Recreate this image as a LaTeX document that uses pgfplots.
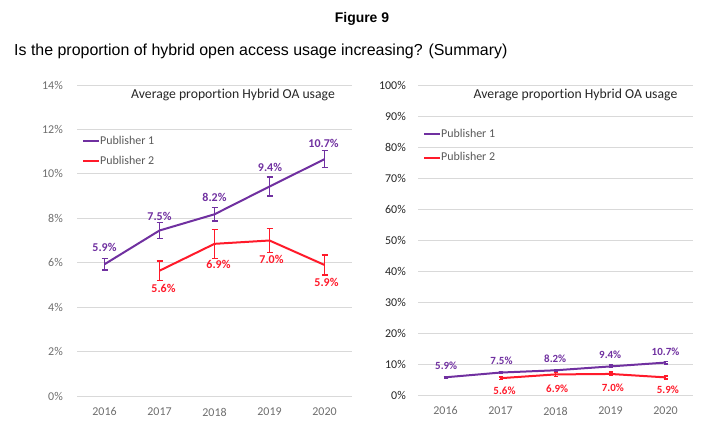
\documentclass[border=0pt]{standalone}
\usepackage{pgfplots}
\usepackage{pgfplotstable}
\pgfplotsset{compat=1.18}
\usepackage{fontspec}
\setmainfont{Carlito}[Ligatures={NoCommon}]
\newfontfamily\arial{Liberation Sans}
\definecolor{p1}{HTML}{7030A0}
\definecolor{p2}{HTML}{FF1A2A}
\definecolor{gridc}{HTML}{D9D9D9}
\definecolor{tickc}{HTML}{6E6E6E}
\definecolor{legc}{HTML}{595959}
\definecolor{titc}{HTML}{262626}

\pgfplotstableread{
x y err lab dx dy rdx rdy
0 5.93 0.25 5.9 0 17 0.7 11.4
1 7.45 0.37 7.5 0 14.5 1 11.4
2 8.18 0.30 8.2 0 16.5 -0.3 11.5
3 9.43 0.42 9.4 0.5 19 -0.3 11.5
4 10.66 0.38 10.7 -1 16 0 10.8
}\pone
\pgfplotstableread{
x y err lab dx dy rdx rdy
1 5.64 0.44 5.6 4 -17.4 4 -12.7
2 6.85 0.65 6.9 4 -21 1.7 -14.7
3 7.00 0.55 7.0 2 -19.4 2.3 -13.7
4 5.90 0.45 5.9 2 -17.3 2.3 -12.6
}\ptwo

\pgfplotsset{
  base/.style={
    scale only axis, width=275bp,
    xmin=-0.5, xmax=4.5, xtick={0,1,2,3,4},
    xticklabels={2016,2017,2018,2019,2020},
    axis line style={draw=none}, major tick length=0pt,
    ymajorgrids, grid style={color=gridc, line width=0.8bp},
    tick label style={font=\fontsize{12}{14}\selectfont, inner sep=0pt},
    xticklabel style={text=tickc, anchor=center},
    yticklabel={\pgfmathprintnumber{\tick}\%},
    /pgf/number format/assume math mode=true,
    clip=false,
    legend cell align=left,
    legend image code/.code={\draw[#1, line width=2bp] (0bp,0bp) -- (16bp,0bp);},
  },
  lbl/.style={
    nodes near coords={\pgfplotspointmeta\%},
    point meta=explicit symbolic,
  },
}

\begin{document}
\begin{tikzpicture}[x=1bp,y=1bp]
\path[use as bounding box] (0,0) rectangle (718,-446);
\node[font=\arial\bfseries\fontsize{14}{16}\selectfont, anchor=center, inner sep=0pt] at (362,-19) {Figure 9};
\node[font=\arial\fontsize{16}{18}\selectfont, anchor=west, inner sep=0pt] at (14,-51) {Is the proportion of hybrid open access usage increasing? (Summary)};

% ---------- left chart
\begin{axis}[base, at={(77bp,-396bp)}, anchor=south west, height=311bp,
  ymin=0, ymax=14, ytick={0,2,...,14},
  xticklabel style={yshift=-16bp},
  yticklabel style={text=tickc, anchor=east, xshift=-14bp},
  legend style={draw=none, fill=none, at={(0.0073,0.8424)}, anchor=north west,
    font=\fontsize{12}{14}\selectfont, text=legc,
    nodes={inner sep=0pt, text height=8bp, text depth=2bp},
    column sep=0bp, row sep=10bp},
  ]
\addplot[color=p1, line width=2bp, mark=none, lbl,
  visualization depends on={\thisrow{dx}\as\dx},
  visualization depends on={\thisrow{dy}\as\dy},
  every node near coord/.append style={anchor=center, xshift=\dx bp, yshift=\dy bp,
    font=\bfseries\fontsize{12}{14}\selectfont, text=p1, inner sep=0pt},
  error bars/.cd, y dir=both, y explicit,
  error bar style={line width=1.4bp},
  error mark options={rotate=90, mark size=3bp, line width=1.4bp}]
  table[x=x, y=y, y error=err, meta=lab] {\pone};
\addlegendentry{Publisher 1}
\addplot[color=p2, line width=2bp, mark=none, lbl,
  visualization depends on={\thisrow{dx}\as\dx},
  visualization depends on={\thisrow{dy}\as\dy},
  every node near coord/.append style={anchor=center, xshift=\dx bp, yshift=\dy bp,
    font=\bfseries\fontsize{12}{14}\selectfont, text=p2, inner sep=0pt},
  error bars/.cd, y dir=both, y explicit,
  error bar style={line width=1.4bp},
  error mark options={rotate=90, mark size=3bp, line width=1.4bp}]
  table[x=x, y=y, y error=err, meta=lab] {\ptwo};
\addlegendentry{Publisher 2}
\end{axis}

% ---------- right chart
\begin{axis}[base, at={(418bp,-395.7bp)}, anchor=south west, height=310.7bp,
  ymin=0, ymax=100, ytick={0,10,...,100},
  xticklabel style={yshift=-15.3bp},
  yticklabel style={text=titc, anchor=east, xshift=-12bp},
  legend style={draw=none, fill=none, at={(0.007,0.864)}, anchor=north west,
    font=\fontsize{12}{14}\selectfont, text=legc,
    nodes={inner sep=0pt, text height=8bp, text depth=2bp},
    column sep=0bp, row sep=13.3bp},
  ]
\addplot[color=p1, line width=2bp, mark=none, lbl,
  visualization depends on={\thisrow{rdx}\as\dx},
  visualization depends on={\thisrow{rdy}\as\dy},
  every node near coord/.append style={anchor=center, xshift=\dx bp, yshift=\dy bp,
    font=\bfseries\fontsize{11}{13}\selectfont, text=p1, inner sep=0pt},
  error bars/.cd, y dir=both, y explicit,
  error bar style={line width=1.2bp},
  error mark options={rotate=90, mark size=2bp, line width=1.5bp}]
  table[x=x, y=y, y error=err, meta=lab] {\pone};
\addlegendentry{Publisher 1}
\addplot[color=p2, line width=2bp, mark=none, lbl,
  visualization depends on={\thisrow{rdx}\as\dx},
  visualization depends on={\thisrow{rdy}\as\dy},
  every node near coord/.append style={anchor=center, xshift=\dx bp, yshift=\dy bp,
    font=\bfseries\fontsize{11}{13}\selectfont, text=p2, inner sep=0pt},
  error bars/.cd, y dir=both, y explicit,
  error bar style={line width=1.2bp},
  error mark options={rotate=90, mark size=2bp, line width=1.5bp}]
  table[x=x, y=y, y error=err, meta=lab] {\ptwo};
\addlegendentry{Publisher 2}
\end{axis}

\node[font=\fontsize{13.75}{16}\selectfont, text=titc, anchor=center, inner sep=0pt] at (233,-95) {Average proportion Hybrid OA usage};
\node[font=\fontsize{13.75}{16}\selectfont, text=titc, anchor=center, inner sep=0pt] at (575.5,-95) {Average proportion Hybrid OA usage};
\end{tikzpicture}
\end{document}
